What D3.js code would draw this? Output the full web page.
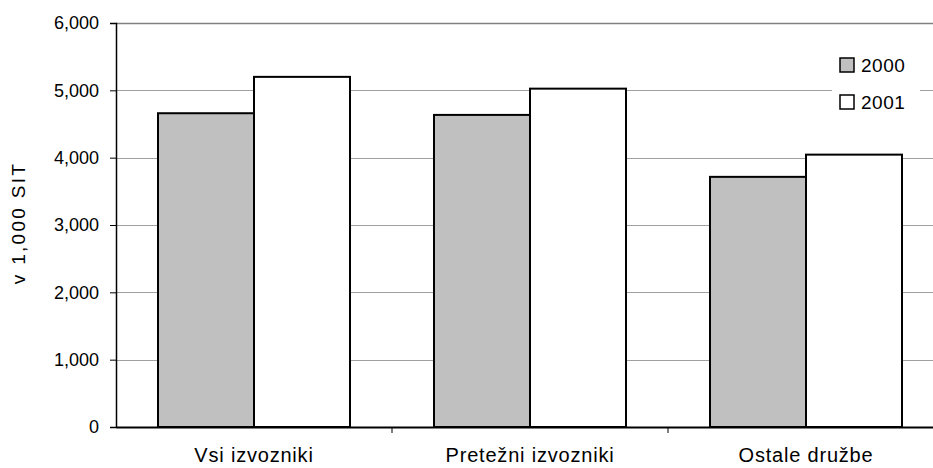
<!DOCTYPE html>
<html>
<head>
<meta charset="utf-8">
<script src="https://cdn.jsdelivr.net/npm/d3@7"></script>
<style>
  body { margin: 0; background: #fff; }
  text { font-family: "Liberation Sans", Arial, sans-serif; fill: #000; }
</style>
</head>
<body>
<div id="chart"></div>
<script>
// chart data
const categories = ['Vsi izvozniki', 'Pretežni izvozniki', 'Ostale družbe'];
const years = ['2000', '2001'];
const values2000 = [4660, 4635, 3715];
const values2001 = [5200, 5025, 4045];
const yTicks = [0, 1000, 2000, 3000, 4000, 5000, 6000];
const colors = ['#c0c0c0', '#ffffff'];

const width = 933, height = 468;
const margin = { left: 116, top: 23, bottom: 41 };
const plotRight = 944; // plot area runs a little past the picture edge

const svg = d3.select('#chart')
  .append('svg')
  .attr('width', width)
  .attr('height', height);

const x0 = d3.scaleBand()
  .domain(categories)
  .range([margin.left, plotRight]);

const x1 = d3.scaleBand()
  .domain(years)
  .range([42, x0.bandwidth() - 42]);

const y = d3.scaleLinear()
  .domain([0, 6000])
  .range([height - margin.bottom, margin.top]);

// gridlines
svg.append('g')
  .selectAll('line')
  .data(yTicks.filter((d) => d > 0))
  .join('line')
  .attr('x1', margin.left)
  .attr('x2', plotRight)
  .attr('y1', (d) => Math.round(y(d)) + 0.5)
  .attr('y2', (d) => Math.round(y(d)) + 0.5)
  .attr('stroke', (d) => (d === 6000 ? '#808080' : '#a0a0a0'))
  .attr('stroke-width', (d) => (d === 6000 ? 1.5 : 1));

// bars
const rows = categories.map((c, i) => ({ cat: c, vals: [values2000[i], values2001[i]] }));

const group = svg.append('g')
  .selectAll('g')
  .data(rows)
  .join('g')
  .attr('transform', (d) => 'translate(' + x0(d.cat) + ',0)');

group.selectAll('rect')
  .data((d) => d.vals.map((v, j) => ({ year: years[j], v: v, j: j })))
  .join('rect')
  .attr('x', (d) => x1(d.year))
  .attr('y', (d) => y(d.v))
  .attr('width', x1.bandwidth())
  .attr('height', (d) => y(0) - y(d.v))
  .attr('fill', (d) => colors[d.j])
  .attr('stroke', '#000')
  .attr('stroke-width', 2);

// y axis
const yAxis = d3.axisLeft(y)
  .tickValues(yTicks)
  .tickSize(6)
  .tickPadding(11)
  .tickFormat(d3.format(','));

const gy = svg.append('g')
  .attr('transform', 'translate(' + margin.left + ',0)')
  .call(yAxis);
gy.attr('font-size', null).attr('font-family', null);
gy.select('.domain').attr('stroke', '#000').attr('stroke-width', 1.5);
gy.selectAll('.tick line').attr('stroke', '#000');
gy.selectAll('.tick text')
  .style('font-size', '18px');

// x axis
const xAxis = d3.axisBottom(x0)
  .tickSize(0)
  .tickPadding(21);

const gx = svg.append('g')
  .attr('transform', 'translate(0,' + y(0) + ')')
  .call(xAxis);
gx.attr('font-size', null).attr('font-family', null);
gx.select('.domain').attr('stroke', '#000').attr('stroke-width', 2);
gx.selectAll('.tick text')
  .style('font-size', '20px')
  .style('letter-spacing', '0.8px');

// category separators
svg.append('g')
  .selectAll('line')
  .data(categories.slice(1))
  .join('line')
  .attr('x1', (d) => x0(d))
  .attr('x2', (d) => x0(d))
  .attr('y1', y(0))
  .attr('y2', y(0) + 6)
  .attr('stroke', '#000');

// y axis title
svg.append('text')
  .attr('transform', 'translate(25,223) rotate(-90)')
  .attr('text-anchor', 'middle')
  .style('font-size', '19px')
  .style('letter-spacing', '2.3px')
  .text('v 1,000 SIT');

// legend
const legend = svg.append('g').attr('transform', 'translate(832,45)');
legend.append('rect')
  .attr('width', 88)
  .attr('height', 78)
  .attr('fill', '#fff');

const item = legend.selectAll('.item')
  .data(years)
  .join('g')
  .attr('class', 'item')
  .attr('transform', (d, i) => 'translate(8,' + (13 + i * 37) + ')');

item.append('rect')
  .attr('width', 14)
  .attr('height', 14)
  .attr('fill', (d, i) => colors[i])
  .attr('stroke', '#000')
  .attr('stroke-width', 1.5);

item.append('text')
  .attr('x', 21)
  .attr('y', 14)
  .style('font-size', '19px')
  .style('letter-spacing', '0.5px')
  .text((d) => d);
</script>
</body>
</html>
